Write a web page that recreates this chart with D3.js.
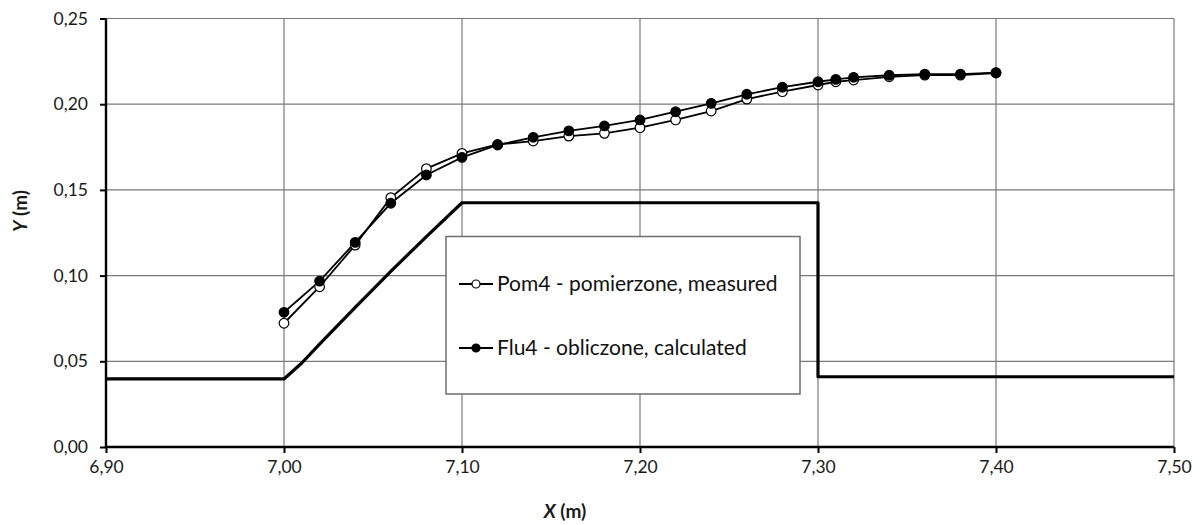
<!DOCTYPE html>
<html>
<head>
<meta charset="utf-8">
<script src="https://cdn.jsdelivr.net/npm/d3@7"></script>
<style>
  body { margin: 0; background: #fff; }
  svg { display: block; font-family: Lato, "Open Sans", sans-serif; }
</style>
</head>
<body>
<svg id="chart" width="1201" height="525"></svg>
<script>
// x positions of the measurement stations
const stations = [7.00, 7.02, 7.04, 7.06, 7.08, 7.10, 7.12, 7.14, 7.16, 7.18, 7.20,
  7.22, 7.24, 7.26, 7.28, 7.30, 7.31, 7.32, 7.34, 7.36, 7.38, 7.40];
// Pom4 - measured water surface
const measured = [0.0722, 0.0935, 0.1178, 0.1455, 0.1624, 0.1713, 0.1765, 0.1785, 0.1814, 0.1830, 0.1863,
  0.1908, 0.1960, 0.2030, 0.2073, 0.2112, 0.2131, 0.2141, 0.2160, 0.2170, 0.2170, 0.2182];
// Flu4 - calculated water surface
const calculated = [0.0786, 0.0968, 0.1194, 0.1422, 0.1587, 0.1690, 0.1762, 0.1807, 0.1844, 0.1873, 0.1908,
  0.1956, 0.2005, 0.2058, 0.2099, 0.2131, 0.2145, 0.2157, 0.2169, 0.2176, 0.2176, 0.2184];
// bed / obstacle profile
const bedX = [6.90, 7.00, 7.01, 7.02, 7.04, 7.06, 7.08, 7.10, 7.30, 7.30, 7.50];
const bedY = [0.0397, 0.0397, 0.0490, 0.0600, 0.0815, 0.1025, 0.1228, 0.1425, 0.1425, 0.0410, 0.0410];

const xTicks = [6.90, 7.00, 7.10, 7.20, 7.30, 7.40, 7.50];
const yTicks = [0.00, 0.05, 0.10, 0.15, 0.20, 0.25];
const legendLabels = ["Pom4 - pomierzone, measured", "Flu4 - obliczone, calculated"];

const svg = d3.select('#chart');
const plotLeft = 106, plotRight = 1174, plotTop = 18.5, plotBottom = 447;

const x = d3.scaleLinear().domain([6.90, 7.50]).range([plotLeft, plotRight]);
const y = d3.scaleLinear().domain([0, 0.25]).range([plotBottom, plotTop]);
const fmt = d => d3.format('.2f')(d).replace('.', ',');

// gridlines
svg.append('g').selectAll('line').data(yTicks.slice(1)).enter().append('line')
  .attr('x1', plotLeft).attr('x2', plotRight)
  .attr('y1', d => y(d)).attr('y2', d => y(d))
  .attr('stroke', '#7a7a7a').attr('stroke-width', 1.2);
svg.append('g').selectAll('line').data(xTicks.slice(1)).enter().append('line')
  .attr('x1', d => x(d)).attr('x2', d => x(d))
  .attr('y1', plotTop).attr('y2', plotBottom)
  .attr('stroke', '#7a7a7a').attr('stroke-width', 1.2);

// axes
const xAxis = svg.append('g').attr('transform', `translate(0,${plotBottom})`)
  .call(d3.axisBottom(x).tickValues(xTicks).tickFormat(fmt).tickSize(6).tickPadding(8));
const yAxis = svg.append('g').attr('transform', `translate(${plotLeft},0)`)
  .call(d3.axisLeft(y).tickValues(yTicks).tickFormat(fmt).tickSize(6).tickPadding(12));
[xAxis, yAxis].forEach(a => {
  a.select('.domain').attr('stroke', '#000').attr('stroke-width', 2.4);
  a.selectAll('.tick line').attr('stroke', '#000').attr('stroke-width', 2);
  a.selectAll('.tick text').attr('fill', '#1a1a1a').style('font-size', '17.5px')
    .style('font-family', 'Lato, sans-serif');
});
xAxis.select('.domain').attr('d', `M${plotLeft},0H${plotRight}`);
yAxis.select('.domain').attr('d', `M0,${plotTop}V${plotBottom}`);

// axis titles
const xt = svg.append('text').attr('x', 565).attr('y', 518).attr('text-anchor', 'middle')
  .style('font-size', '19px').style('font-weight', 'bold').attr('fill', '#1a1a1a');
xt.append('tspan').style('font-style', 'italic').text('X');
xt.append('tspan').text(' (m)');
const yt = svg.append('text').attr('transform', 'translate(27,211) rotate(-90)')
  .attr('text-anchor', 'middle')
  .style('font-size', '19px').style('font-weight', 'bold').attr('fill', '#1a1a1a');
yt.append('tspan').style('font-style', 'italic').text('Y');
yt.append('tspan').text(' (m)');

// bed profile
const bed = bedX.map((d, i) => [d, bedY[i]]);
svg.append('path').datum(bed)
  .attr('d', d3.line().x(d => x(d[0])).y(d => y(d[1])))
  .attr('fill', 'none').attr('stroke', '#000').attr('stroke-width', 3.2)
  .attr('stroke-linejoin', 'round');

// series
const series = [
  { values: measured, fill: '#fff' },
  { values: calculated, fill: '#000' }
];
series.forEach(s => {
  const pts = stations.map((d, i) => [d, s.values[i]]);
  svg.append('path').datum(pts)
    .attr('d', d3.line().x(d => x(d[0])).y(d => y(d[1])))
    .attr('fill', 'none').attr('stroke', '#000').attr('stroke-width', 1.8);
});
series.forEach(s => {
  const pts = stations.map((d, i) => [d, s.values[i]]);
  svg.append('g').selectAll('circle').data(pts).enter().append('circle')
    .attr('cx', d => x(d[0])).attr('cy', d => y(d[1])).attr('r', 4.8)
    .attr('fill', s.fill).attr('stroke', '#000').attr('stroke-width', 1.2);
});

// legend
const lg = svg.append('g');
lg.append('rect').attr('x', 446).attr('y', 236.5).attr('width', 354).attr('height', 157.5)
  .attr('fill', '#fff').attr('stroke', '#6e6e6e').attr('stroke-width', 1.5);
const rowY = [284, 348];
series.forEach((s, i) => {
  lg.append('line').attr('x1', 459).attr('x2', 493).attr('y1', rowY[i]).attr('y2', rowY[i])
    .attr('stroke', '#000').attr('stroke-width', 1.8);
  lg.append('circle').attr('cx', 476).attr('cy', rowY[i]).attr('r', 4)
    .attr('fill', s.fill).attr('stroke', '#000').attr('stroke-width', 1.2);
  lg.append('text').attr('x', 497).attr('y', rowY[i] + 7)
    .style('font-size', '21px').attr('fill', '#111').text(legendLabels[i]);
});
</script>
</body>
</html>
